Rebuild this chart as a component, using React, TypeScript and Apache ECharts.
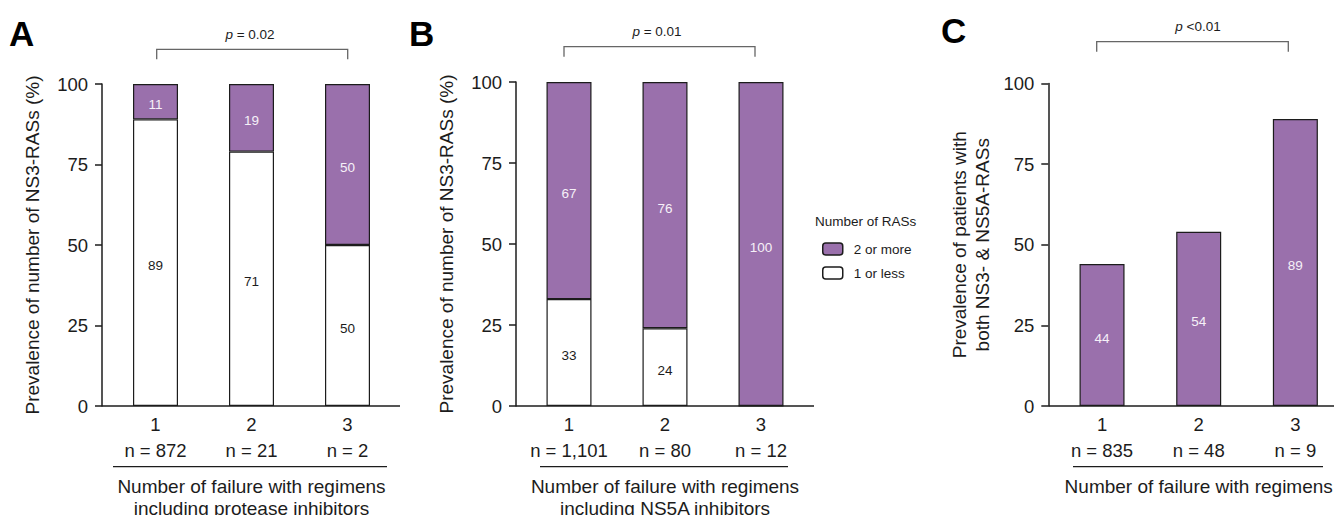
import React, { useEffect, useRef } from "react";
import * as echarts from "echarts";

// ---- data ----
const categories = ["1", "2", "3"];

// Panel A: NS3-RASs after failure with protease-inhibitor regimens
const nA = ["n = 872", "n = 21", "n = 2"];
const aLowValues = [89, 79, 50]; // "1 or less" (white) as drawn
const aHighValues = [11, 21, 50]; // "2 or more" (purple) as drawn
const aLowLabels = ["89", "71", "50"];
const aHighLabels = ["11", "19", "50"];
const pA = "= 0.02";

// Panel B: NS3-RASs after failure with NS5A-inhibitor regimens
const nB = ["n = 1,101", "n = 80", "n = 12"];
const bLowValues = [33, 24, 0];
const bHighValues = [67, 76, 100];
const bLowLabels = ["33", "24", ""];
const bHighLabels = ["67", "76", "100"];
const pB = "= 0.01";

// Panel C: patients with both NS3- & NS5A-RASs
const nC = ["n = 835", "n = 48", "n = 9"];
const cValues = [44, 54, 89];
const cLabels = ["44", "54", "89"];
const pC = "<0.01";

const yTicks = { min: 0, max: 100, interval: 25 };

const PURPLE = "#9a70ac";
const INK = "#1c1c1c";
const FONT = "'Liberation Sans', Arial, Helvetica, sans-serif";

function App() {
  const ref = useRef<HTMLDivElement>(null);

  useEffect(() => {
    document.body.style.margin = "0";
    if (!ref.current) return;
    const chart = echarts.init(ref.current, undefined, { renderer: "svg" });

    const grids = [
      { left: 107.5, top: 84, width: 288, height: 322 },
      { left: 521, top: 82, width: 288, height: 324 },
      { left: 1053.7, top: 83.5, width: 290, height: 322.5 },
    ];
    const nLabels = [nA, nB, nC];
    const yNames = [
      "Prevalence of number of NS3-RASs (%)",
      "Prevalence of number of NS3-RASs (%)",
      "Prevalence of patients with\nboth NS3- & NS5A-RASs",
    ];
    const xNames = [
      "Number of failure with regimens\nincluding protease inhibitors",
      "Number of failure with regimens\nincluding NS5A inhibitors",
      "Number of failure with regimens",
    ];
    const yOffsets = [5.5, 5, 5.4];
    const yNameGaps = [58, 58, 54];

    const xAxis = grids.map((_, i) => ({
      type: "category",
      gridIndex: i,
      data: categories,
      axisLine: { show: false },
      axisTick: { show: false },
      axisLabel: {
        interval: 0,
        margin: 5,
        fontSize: 18.5,
        lineHeight: 26,
        color: INK,
        fontFamily: FONT,
        formatter: (v: string, idx: number) => v + "\n" + nLabels[i][idx],
      },
      name: xNames[i],
      nameLocation: "middle",
      nameGap: 69,
      nameTextStyle: { fontSize: 19, lineHeight: 22, color: INK, fontFamily: FONT },
    }));

    const yAxis = grids.map((_, i) => ({
      type: "value",
      gridIndex: i,
      min: yTicks.min,
      max: yTicks.max,
      interval: yTicks.interval,
      offset: yOffsets[i],
      splitLine: { show: false },
      axisLine: { show: true, lineStyle: { color: INK, width: 1.5 } },
      axisTick: { show: true, length: 7, lineStyle: { color: INK, width: 1.5 } },
      axisLabel: { margin: 14, fontSize: 18.5, color: INK, fontFamily: FONT },
      name: yNames[i],
      nameLocation: "middle",
      nameRotate: 90,
      nameGap: yNameGaps[i],
      nameTextStyle: { fontSize: 19, lineHeight: 23, color: INK, fontFamily: FONT },
    }));

    const barBase = {
      type: "bar",
      barWidth: 45,
      itemStyle: { borderColor: INK, borderWidth: 1.2 },
    };
    const lbl = (labels: string[], color: string) => ({
      show: true,
      position: "inside",
      offset: [0, 3],
      fontSize: 13.5,
      color,
      fontFamily: FONT,
      formatter: (p: any) => labels[p.dataIndex],
    });

    const series: any[] = [
      {
        ...barBase,
        name: "1 or less",
        xAxisIndex: 0,
        yAxisIndex: 0,
        stack: "a",
        data: aLowValues,
        itemStyle: { ...barBase.itemStyle, color: "#ffffff" },
        label: lbl(aLowLabels, INK),
      },
      {
        ...barBase,
        name: "2 or more",
        xAxisIndex: 0,
        yAxisIndex: 0,
        stack: "a",
        data: aHighValues,
        itemStyle: { ...barBase.itemStyle, color: PURPLE },
        label: lbl(aHighLabels, "#f6f0f8"),
      },
      {
        ...barBase,
        name: "1 or less",
        xAxisIndex: 1,
        yAxisIndex: 1,
        stack: "b",
        data: bLowValues,
        itemStyle: { ...barBase.itemStyle, color: "#ffffff" },
        label: lbl(bLowLabels, INK),
      },
      {
        ...barBase,
        name: "2 or more",
        xAxisIndex: 1,
        yAxisIndex: 1,
        stack: "b",
        data: bHighValues,
        itemStyle: { ...barBase.itemStyle, color: PURPLE },
        label: lbl(bHighLabels, "#f6f0f8"),
      },
      {
        ...barBase,
        name: "Both NS3- & NS5A-RASs",
        xAxisIndex: 2,
        yAxisIndex: 2,
        data: cValues,
        itemStyle: { ...barBase.itemStyle, color: PURPLE },
        label: lbl(cLabels, "#f6f0f8"),
      },
    ];

    const axisLine = (x1: number, x2: number, y: number) => ({
      type: "line",
      shape: { x1, y1: y, x2, y2: y },
      style: { stroke: INK, lineWidth: 1.5 },
      silent: true,
    });
    const underline = (x1: number, x2: number) => ({
      type: "line",
      shape: { x1, y1: 466.7, x2, y2: 466.7 },
      style: { stroke: INK, lineWidth: 1.3 },
      silent: true,
    });
    const bracket = (x1: number, x2: number, y: number) => ({
      type: "polyline",
      shape: { points: [[x1, y + 10], [x1, y], [x2, y], [x2, y + 10]] },
      style: { stroke: "#666", lineWidth: 1.3, fill: null },
      silent: true,
    });
    const pText = (x: number, y: number, rest: string) => ({
      type: "text",
      x,
      y,
      style: {
        text: "{i|p} " + rest,
        rich: {
          i: { fontStyle: "italic", fontSize: 13.5, fontFamily: FONT, fill: INK },
        },
        fontSize: 13.5,
        fontFamily: FONT,
        fill: INK,
        align: "center",
        verticalAlign: "middle",
      },
    });
    const letter = (x: number, y: number, t: string) => ({
      type: "text",
      x,
      y,
      style: {
        text: t,
        fontSize: 35,
        fontWeight: "bold",
        fontFamily: FONT,
        fill: "#000",
        align: "left",
        verticalAlign: "middle",
      },
    });

    const option: any = {
      animation: false,
      backgroundColor: "#ffffff",
      textStyle: { fontFamily: FONT },
      grid: grids.map((g) => ({ ...g, containLabel: false, outerBoundsMode: "none" })),
      xAxis,
      yAxis,
      series,
      legend: {
        data: ["2 or more", "1 or less"],
        orient: "vertical",
        left: 817,
        top: 237,
        itemWidth: 20,
        itemHeight: 12,
        itemGap: 10,
        selectedMode: false,
        itemStyle: { borderColor: INK, borderWidth: 1.5 },
        textStyle: { fontSize: 13.5, color: INK, fontFamily: FONT, padding: [0, 0, 0, 6] },
      },
      graphic: [
        axisLine(102, 400, 406),
        axisLine(516, 814, 406),
        axisLine(1048.3, 1334, 406),
        underline(113, 387),
        underline(540, 788),
        underline(1073, 1323),
        bracket(156.7, 347.7, 49.3),
        bracket(564, 755, 46.7),
        bracket(1096.7, 1288.3, 41.7),
        pText(250, 34, pA),
        pText(657, 31.5, pB),
        pText(1198, 26, pC),
        letter(9, 33, "A"),
        letter(409, 33, "B"),
        letter(941, 30, "C"),
        {
          type: "text",
          x: 815,
          y: 221,
          style: {
            text: "Number of RASs",
            fontSize: 13.5,
            fontFamily: FONT,
            fill: INK,
            align: "left",
            verticalAlign: "middle",
          },
        },
      ],
    };

    chart.setOption(option);
    return () => chart.dispose();
  }, []);

  return <div ref={ref} style={{ width: 1334, height: 515 }} />;
}

export default App;
